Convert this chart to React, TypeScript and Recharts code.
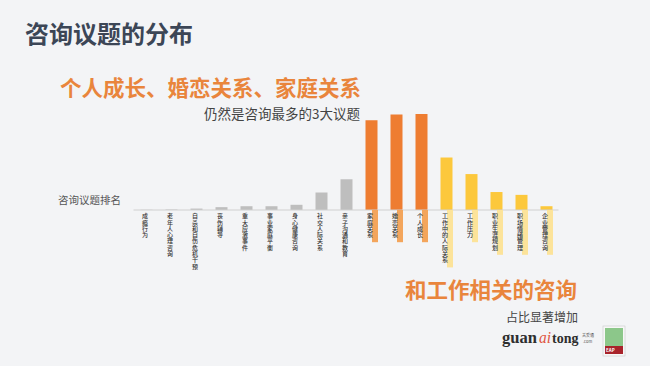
import React from 'react';
import { BarChart, Bar, XAxis, YAxis, Cell } from 'recharts';

const categories = [
  '成瘾行为', '老年人心理咨询', '自杀和自伤危机干预', '丧伤辅导', '重大应激事件', '事业家庭平衡',
  '身心健康咨询', '社交人际关系', '亲子沟通和教育', '家庭关系', '婚恋关系', '个人成长',
  '工作中的人际关系', '工作压力', '职业生涯规划', '职场情绪管理', '企业管理咨询',
];
const shares = [0.05, 0.1, 0.3, 0.6, 0.8, 0.8, 1.1, 3.7, 6.5, 19.0, 20.2, 20.3, 11.1, 7.6, 3.8, 3.2, 0.8];
const groups = ['other', 'other', 'other', 'other', 'other', 'other', 'other', 'other', 'other',
  'top', 'top', 'top', 'work', 'work', 'work', 'work', 'work'];

const barColor: Record<string, string> = { other: '#BEBEBE', top: '#EE7D31', work: '#FCC83C' };
const stripColor: Record<string, string | null> = { other: null, top: '#F3A55C', work: '#FCE39A' };

const data = categories.map((name, i) => ({ name, value: shares[i], group: groups[i] }));

const FONT = '"Noto Sans CJK SC", "Noto Sans", sans-serif';
const SERIF = '"Liberation Serif", "DejaVu Serif", serif';

const VerticalTick = (props: any) => {
  const { x, y, payload } = props;
  const name: string = payload.value;
  const idx = categories.indexOf(name);
  const g = groups[idx];
  const step = 6.3;
  const strip = stripColor[g];
  const textEnd = 3 + name.length * step;
  return (
    <g>
      {strip && (
        <rect x={x + 1} y={y} width={6} height={textEnd + 4} fill={strip} />
      )}
      <text x={x - 1} y={y + 3} fontSize={6} fontFamily={FONT} fill="#333" fontWeight={500}
        letterSpacing={0.3} style={{ writingMode: 'vertical-rl' } as any}>{name}</text>
    </g>
  );
};

export default function App() {
  return (
    <div style={{ position: 'absolute', left: 0, top: 0, width: 650, height: 366, background: '#F3F4F6', overflow: 'hidden' }}>
      <BarChart width={650} height={366} data={data}
        margin={{ top: 110.7, right: 91.5, bottom: 96, left: 133.5 }} barCategoryGap={0}>
        <XAxis dataKey="name" interval={0} tickLine={false} tickSize={0} tickMargin={0}
          axisLine={{ stroke: '#D0D0D0' }} height={60} tick={<VerticalTick />} />
        <YAxis hide domain={[0, 21]} />
        <Bar dataKey="value" barSize={12} isAnimationActive={false}>
          {data.map((d, i) => (
            <Cell key={i} fill={barColor[d.group]} />
          ))}
        </Bar>
      </BarChart>
      <svg width={650} height={366} style={{ position: 'absolute', left: 0, top: 0, pointerEvents: 'none' }}>
        <text x={25} y={43} fontSize={24} fontWeight={700} fontFamily={FONT} fill="#3C4656">咨询议题的分布</text>
        <text x={60} y={96} fontSize={21.5} fontWeight={700} fontFamily={FONT} fill="#E9853C">个人成长、婚恋关系、家庭关系</text>
        <text x={360} y={119} fontSize={13.5} textAnchor="end" fontFamily={FONT} fill="#444">仍然是咨询最多的3大议题</text>
        <text x={58} y={204} fontSize={10.5} fontFamily={FONT} fill="#555">咨询议题排名</text>
        <text x={405} y={298} fontSize={21.5} fontWeight={700} fontFamily={FONT} fill="#E9853C">和工作相关的咨询</text>
        <text x={578} y={322} fontSize={12} textAnchor="end" fontFamily={FONT} fill="#444">占比显著增加</text>
        <text x={502} y={343} fontSize={16} fontFamily={SERIF} fill="#2E2E2E" fontWeight={700}
          textLength={35} lengthAdjust="spacingAndGlyphs">guan</text>
        <text x={539} y={343} fontSize={16} fontFamily={SERIF} fill="#E0553F" fontStyle="italic"
          textLength={12} lengthAdjust="spacingAndGlyphs">ai</text>
        <text x={552} y={343} fontSize={14} fontFamily={SERIF} fill="#2E2E2E" fontWeight={700}>tong</text>
        <text fontSize={4} fontFamily={FONT} fill="#555">
          <tspan x={582} y={337}>关爱通</tspan>
          <tspan x={583} y={343}>.com</tspan>
        </text>
        <rect x={603} y={326} width={22} height={30} fill="#F7F7F7" stroke="#C9C9C9" strokeWidth={0.6} />
        <rect x={605} y={328} width={18} height={18} fill="#8CC78A" />
        <rect x={605} y={346} width={18} height={8} fill="#A8232B" />
        <text x={606} y={352} fontSize={4.5} fontWeight={700} fontFamily={FONT} fill="#fff">EAP</text>
      </svg>
    </div>
  );
}
